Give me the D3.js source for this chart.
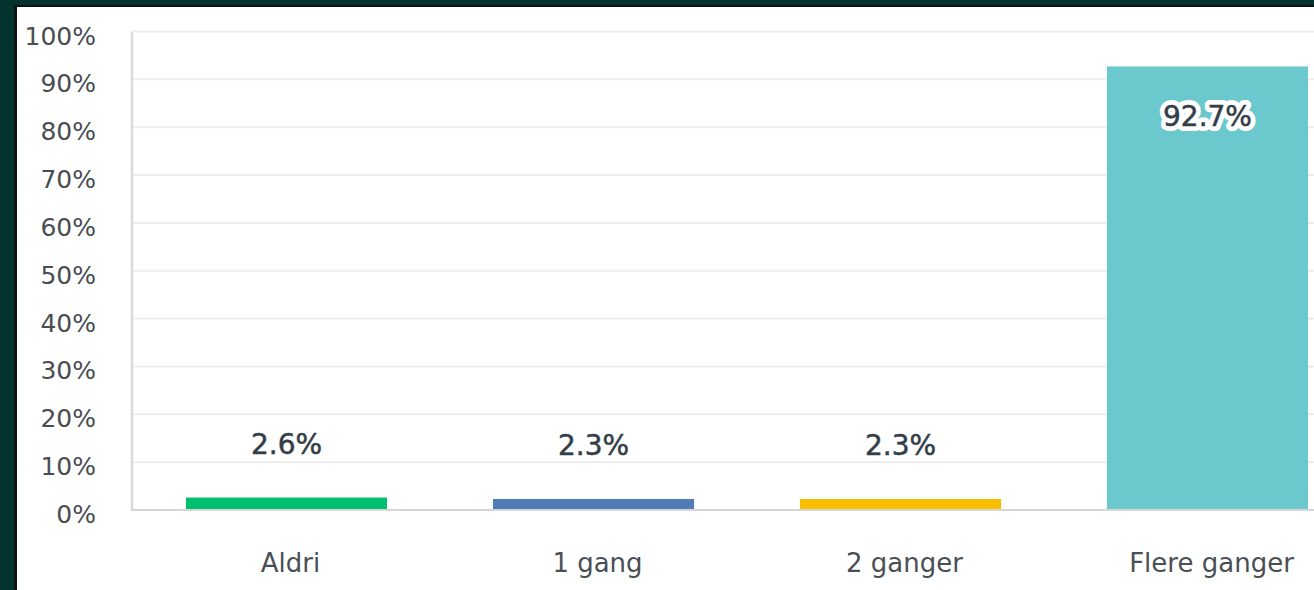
<!DOCTYPE html>
<html lang="no">
<head>
  <meta charset="UTF-8" />
  <title>Chart</title>
  <style>
    html, body { margin: 0; padding: 0; background: #04332f; overflow: hidden; }
  </style>
</head>
<body>
  <svg id="chart" width="1314" height="590"></svg>

  <script src="https://d3js.org/d3.v7.min.js"></script>
  <script>
    // data
    const categories = ["Aldri", "1 gang", "2 ganger", "Flere ganger"];
    const values = [2.6, 2.3, 2.3, 92.7];
    const colors = ["#00bf6f", "#507cb6", "#f9be00", "#6bc8cd"];
    const yTicks = [0, 10, 20, 30, 40, 50, 60, 70, 80, 90, 100];

    const svg = d3.select("#chart");

    // dark frame + white panel
    svg.append("rect").attr("x", 0).attr("y", 0).attr("width", 1314).attr("height", 590).attr("fill", "#04332f");
    svg.append("rect").attr("x", 14).attr("y", 5).attr("width", 1310).attr("height", 600).attr("fill", "#0a1513");
    svg.append("rect").attr("x", 17).attr("y", 7).attr("width", 1310).attr("height", 600).attr("fill", "#ffffff");

    const x = d3.scaleBand()
      .domain(categories)
      .range([133, 1361])
      .paddingInner(0.345)
      .paddingOuter(0.1725);

    const y = d3.scaleLinear().domain([0, 100]).range([510, 31.5]);

    // gridlines
    svg.append("g")
      .selectAll("line")
      .data(yTicks.filter(d => d > 0))
      .enter()
      .append("line")
      .attr("x1", 133)
      .attr("x2", 1314)
      .attr("y1", d => y(d))
      .attr("y2", d => y(d))
      .attr("stroke", "#ededed")
      .attr("stroke-width", 2);

    // y tick labels
    svg.append("g")
      .selectAll("text")
      .data(yTicks)
      .enter()
      .append("text")
      .attr("x", 96)
      .attr("y", d => y(d) + 13)
      .attr("text-anchor", "end")
      .attr("font-family", "DejaVu Sans")
      .attr("font-size", "25px")
      .attr("fill", "#494d52")
      .text(d => d + "%");

    // axis lines
    svg.append("line")
      .attr("x1", 132).attr("x2", 132)
      .attr("y1", y(100)).attr("y2", y(0) + 1)
      .attr("stroke", "#dadada").attr("stroke-width", 2.5);
    svg.append("line")
      .attr("x1", 131).attr("x2", 1314)
      .attr("y1", y(0)).attr("y2", y(0))
      .attr("stroke", "#d6d6d6").attr("stroke-width", 2);

    // bars
    svg.append("g")
      .selectAll("rect")
      .data(values)
      .enter()
      .append("rect")
      .attr("x", (d, i) => x(categories[i]))
      .attr("y", d => y(d))
      .attr("width", x.bandwidth())
      .attr("height", d => y(0) - 1 - y(d))
      .attr("fill", (d, i) => colors[i]);

    // value labels (white halo, then text)
    const labelY = d => d > 50 ? y(d) + 60 : y(d) - 44;
    const labels = svg.append("g");
    labels.selectAll(".halo")
      .data(values)
      .enter()
      .append("text")
      .attr("class", "halo")
      .attr("x", (d, i) => x(categories[i]) + x.bandwidth() / 2)
      .attr("y", labelY)
      .attr("text-anchor", "middle")
      .attr("font-family", "DejaVu Sans")
      .attr("font-size", "28px")
      .attr("fill", "#fff")
      .attr("stroke", "#fff")
      .attr("stroke-width", 10)
      .attr("stroke-linejoin", "round")
      .text(d => d.toFixed(1) + "%");
    labels.selectAll(".val")
      .data(values)
      .enter()
      .append("text")
      .attr("class", "val")
      .attr("x", (d, i) => x(categories[i]) + x.bandwidth() / 2)
      .attr("y", labelY)
      .attr("text-anchor", "middle")
      .attr("font-family", "DejaVu Sans")
      .attr("font-size", "28px")
      .attr("fill", "#333e48")
      .attr("stroke", "#333e48")
      .attr("stroke-width", 0.5)
      .text(d => d.toFixed(1) + "%");

    // category labels
    svg.append("g")
      .selectAll("text")
      .data(categories)
      .enter()
      .append("text")
      .attr("x", d => x(d) + x.bandwidth() / 2 + 4)
      .attr("y", 572)
      .attr("text-anchor", "middle")
      .attr("font-family", "DejaVu Sans")
      .attr("font-size", "26px")
      .attr("fill", "#4a4f55")
      .text(d => d);
  </script>
</body>
</html>
